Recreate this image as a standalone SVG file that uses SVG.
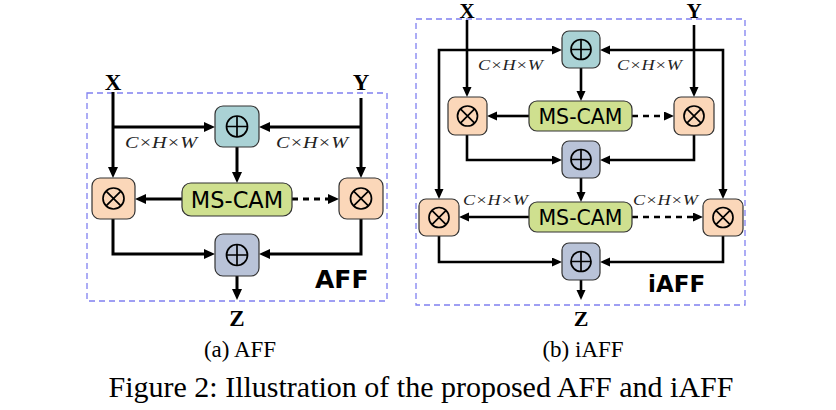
<svg xmlns="http://www.w3.org/2000/svg" width="836" height="410" viewBox="0 0 836 410">
<style>
.bg{fill:#ffffff}
.border{fill:none;stroke:#8080f0;stroke-width:1.3;stroke-dasharray:6 4}
.box{stroke:#333;stroke-width:1.2}
.addA{fill:#aad2d5}
.addB{fill:#b9c3d8}
.mul{fill:#fbd7b9}
.cam{fill:#cfe08f}
.sym{fill:none;stroke:#000;stroke-width:1.7}
.a{fill:none;stroke:#000;stroke-width:3}
.b{fill:none;stroke:#000;stroke-width:2.6}
.dash{stroke-dasharray:6 5}
.lbl{font-family:"Liberation Serif",serif;font-weight:bold;text-anchor:middle;fill:#000}
.math{font-family:"Liberation Serif",serif;font-style:italic;fill:#222}
.cam-t{font-family:"DejaVu Sans",sans-serif;text-anchor:middle;fill:#000}
.title{font-family:"DejaVu Sans",sans-serif;font-weight:bold;fill:#000}
.cap{font-family:"Liberation Serif",serif;text-anchor:middle;fill:#000}
</style>
<defs>
<marker id="ha" markerUnits="userSpaceOnUse" markerWidth="12" markerHeight="11" refX="0" refY="5" orient="auto-start-reverse"><path d="M0,0 L11,5 L0,10 z" fill="#000"/></marker>
<marker id="hb" markerUnits="userSpaceOnUse" markerWidth="11" markerHeight="10" refX="0" refY="4.5" orient="auto-start-reverse"><path d="M0,0 L10,4.5 L0,9 z" fill="#000"/></marker>
</defs>
<rect class="bg" x="0" y="0" width="836" height="410"/>

<!-- ===== AFF ===== -->
<g id="aff-frame"><rect class="border" x="87" y="93" width="300" height="208"/></g>
<g id="aff-connectors">
<path class="a" d="M113,92 V167" marker-end="url(#ha)"/>
<path class="a" d="M113,127 H204" marker-end="url(#ha)"/>
<path class="a" d="M361,98 V167" marker-end="url(#ha)"/>
<path class="a" d="M361,127 H270" marker-end="url(#ha)"/>
<path class="a" d="M237,147 V172" marker-end="url(#ha)"/>
<path class="a" d="M182,199 H146" marker-end="url(#ha)"/>
<path class="a dash" d="M292,199 H328" marker-end="url(#ha)"/>
<path class="a" d="M113,219 V254 H204" marker-end="url(#ha)"/>
<path class="a" d="M361,219 V254 H270" marker-end="url(#ha)"/>
<path class="a" d="M237,276 V289" marker-end="url(#ha)"/>
</g>
<g id="aff-x"><text class="lbl" x="113" y="90" font-size="23">X</text></g>
<g id="aff-y"><text class="lbl" x="361" y="90" font-size="23">Y</text></g>
<g id="aff-z"><text class="lbl" x="237" y="326" font-size="23">Z</text></g>
<g id="aff-dim"><text class="math" x="125" y="148" font-size="16" textLength="72" lengthAdjust="spacingAndGlyphs">C×H×W</text>
<text class="math" x="276" y="148" font-size="16" textLength="72" lengthAdjust="spacingAndGlyphs">C×H×W</text></g>
<g id="aff-add1"><rect class="box addA" x="215" y="106" width="44" height="41" rx="8"/>
<circle class="sym" cx="237" cy="126.5" r="10.5"/><path class="sym" d="M226.5,126.5 H247.5 M237,116 V137"/></g>
<g id="aff-mscam"><rect class="box cam" x="182" y="183" width="110" height="33" rx="9"/>
<text class="cam-t" x="237" y="208" font-size="22.5">MS-CAM</text></g>
<g id="aff-mul-l"><rect class="box mul" x="92" y="178" width="43" height="41" rx="8"/>
<circle class="sym" cx="113.5" cy="198.5" r="10.5"/><path class="sym" d="M106.1,191.1 L120.9,205.9 M120.9,191.1 L106.1,205.9"/></g>
<g id="aff-mul-r"><rect class="box mul" x="339" y="178" width="44" height="41" rx="8"/>
<circle class="sym" cx="361" cy="198.5" r="10.5"/><path class="sym" d="M353.6,191.1 L368.4,205.9 M368.4,191.1 L353.6,205.9"/></g>
<g id="aff-add2"><rect class="box addB" x="215" y="234" width="44" height="42" rx="8"/>
<circle class="sym" cx="237" cy="255" r="10.5"/><path class="sym" d="M226.5,255 H247.5 M237,244.5 V265.5"/></g>
<g id="aff-title"><text class="title" x="315" y="288" font-size="25">AFF</text></g>

<!-- ===== iAFF ===== -->
<g id="iaff-frame"><rect class="border" x="416" y="19" width="329" height="286"/></g>
<g id="iaff-connectors">
<path class="b" d="M439,189 V50 H552" marker-start="url(#hb)" marker-end="url(#hb)"/>
<path class="b" d="M723,189 V50 H610" marker-start="url(#hb)" marker-end="url(#hb)"/>
<path class="b" d="M467,20 V87" marker-end="url(#hb)"/>
<path class="b" d="M694,25 V87" marker-end="url(#hb)"/>
<path class="b" d="M581,68 V91" marker-end="url(#hb)"/>
<path class="b" d="M529,116 H497" marker-end="url(#hb)"/>
<path class="b dash" d="M632,116 H664" marker-end="url(#hb)"/>
<path class="b" d="M467,135 V160 H552" marker-end="url(#hb)"/>
<path class="b" d="M694,135 V160 H610" marker-end="url(#hb)"/>
<path class="b" d="M581,178 V192" marker-end="url(#hb)"/>
<path class="b" d="M529,217 H469" marker-end="url(#hb)"/>
<path class="b dash" d="M632,217 H693" marker-end="url(#hb)"/>
<path class="b" d="M439,236 V262 H552" marker-end="url(#hb)"/>
<path class="b" d="M723,236 V262 H610" marker-end="url(#hb)"/>
<path class="b" d="M581,280 V290" marker-end="url(#hb)"/>
</g>
<g id="iaff-x"><text class="lbl" x="467" y="18" font-size="21">X</text></g>
<g id="iaff-y"><text class="lbl" x="694" y="18" font-size="21">Y</text></g>
<g id="iaff-z"><text class="lbl" x="581" y="326" font-size="22">Z</text></g>
<g id="iaff-dim">
<text class="math" x="478" y="70" font-size="15" textLength="65" lengthAdjust="spacingAndGlyphs">C×H×W</text>
<text class="math" x="617" y="70" font-size="15" textLength="65" lengthAdjust="spacingAndGlyphs">C×H×W</text>
<text class="math" x="463" y="205" font-size="15" textLength="65" lengthAdjust="spacingAndGlyphs">C×H×W</text>
<text class="math" x="633" y="205" font-size="15" textLength="65" lengthAdjust="spacingAndGlyphs">C×H×W</text>
</g>
<g id="iaff-add1"><rect class="box addA" x="562" y="31" width="38" height="37" rx="7"/>
<circle class="sym" cx="581" cy="49.5" r="10"/><path class="sym" d="M571,49.5 H591 M581,39.5 V59.5"/></g>
<g id="iaff-mscam1"><rect class="box cam" x="529" y="101" width="103" height="30" rx="8"/>
<text class="cam-t" x="580.5" y="123.5" font-size="20.5">MS-CAM</text></g>
<g id="iaff-mul-l1"><rect class="box mul" x="448" y="97" width="39" height="38" rx="7"/>
<circle class="sym" cx="467.5" cy="116" r="10"/><path class="sym" d="M460.4,108.9 L474.6,123.1 M474.6,108.9 L460.4,123.1"/></g>
<g id="iaff-mul-r1"><rect class="box mul" x="674" y="97" width="40" height="38" rx="7"/>
<circle class="sym" cx="694" cy="116" r="10"/><path class="sym" d="M686.9,108.9 L701.1,123.1 M701.1,108.9 L686.9,123.1"/></g>
<g id="iaff-add2"><rect class="box addB" x="562" y="141" width="38" height="37" rx="7"/>
<circle class="sym" cx="581" cy="159.5" r="10"/><path class="sym" d="M571,159.5 H591 M581,149.5 V169.5"/></g>
<g id="iaff-mscam2"><rect class="box cam" x="529" y="202" width="103" height="30" rx="8"/>
<text class="cam-t" x="580.5" y="224.5" font-size="20.5">MS-CAM</text></g>
<g id="iaff-mul-l2"><rect class="box mul" x="419" y="199" width="40" height="37" rx="7"/>
<circle class="sym" cx="439" cy="217.5" r="10"/><path class="sym" d="M431.9,210.4 L446.1,224.6 M446.1,210.4 L431.9,224.6"/></g>
<g id="iaff-mul-r2"><rect class="box mul" x="703" y="199" width="40" height="37" rx="7"/>
<circle class="sym" cx="723" cy="217.5" r="10"/><path class="sym" d="M715.9,210.4 L730.1,224.6 M730.1,210.4 L715.9,224.6"/></g>
<g id="iaff-add3"><rect class="box addB" x="562" y="243" width="38" height="37" rx="7"/>
<circle class="sym" cx="581" cy="261.5" r="10"/><path class="sym" d="M571,261.5 H591 M581,251.5 V271.5"/></g>
<g id="iaff-title"><text class="title" x="648" y="292" font-size="23">iAFF</text></g>

<!-- captions -->
<g id="captions">
<text class="cap" x="240" y="357" font-size="23">(a) AFF</text>
<text class="cap" x="583" y="357" font-size="23">(b) iAFF</text>
<text class="cap" x="421" y="397" font-size="30">Figure 2: Illustration of the proposed AFF and iAFF</text>
</g>
</svg>
